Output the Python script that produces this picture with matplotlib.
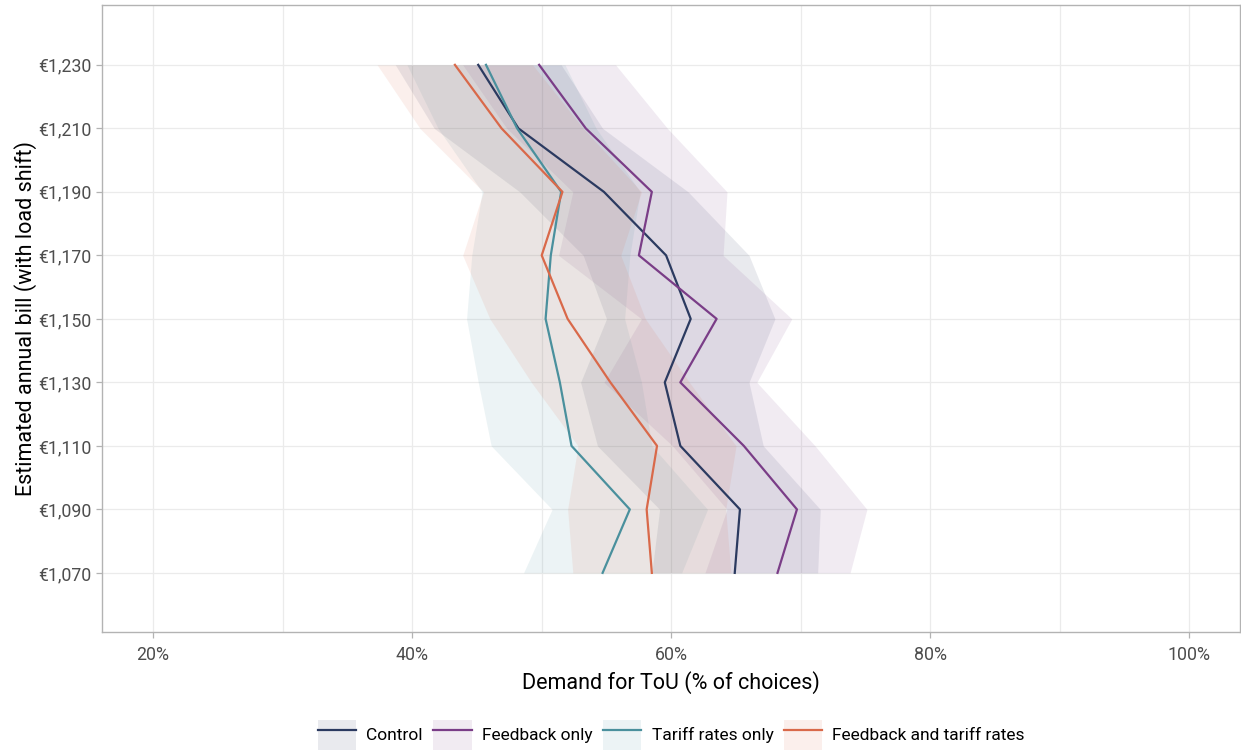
import numpy as np
import matplotlib
matplotlib.use("Agg")
import matplotlib.pyplot as plt
from matplotlib.patches import Patch
from matplotlib.lines import Line2D
from matplotlib.ticker import FuncFormatter, MultipleLocator

plt.rcParams['font.family'] = ['Roboto', 'DejaVu Sans']

# estimated annual bill (with load shift), euro
bills = [1070, 1090, 1110, 1130, 1150, 1170, 1190, 1210, 1230]

# demand for ToU, % of choices: mean, lower, upper
control_mid = [64.9, 65.3, 60.7, 59.5, 61.5, 59.6, 54.8, 48.2, 45.1]
control_lo = [58.5, 59.1, 54.3, 53.0, 55.0, 53.2, 48.3, 41.7, 38.7]
control_hi = [71.3, 71.5, 67.1, 66.0, 68.0, 66.0, 61.3, 54.7, 51.5]

feedback_mid = [68.2, 69.7, 65.6, 60.7, 63.5, 57.5, 58.5, 53.4, 49.8]
feedback_lo = [62.6, 64.3, 60.1, 54.8, 57.7, 51.3, 52.4, 47.3, 43.9]
feedback_hi = [73.8, 75.1, 71.1, 66.6, 69.3, 64.0, 64.3, 59.7, 55.7]

tariff_mid = [54.7, 56.8, 52.3, 51.4, 50.3, 50.7, 51.5, 48.1, 45.7]
tariff_lo = [48.6, 50.8, 46.1, 45.1, 44.2, 44.6, 45.4, 42.0, 39.6]
tariff_hi = [60.8, 62.8, 58.5, 57.7, 56.4, 56.8, 57.6, 54.2, 51.8]

both_mid = [58.5, 58.1, 58.9, 55.3, 52.0, 50.0, 51.6, 46.9, 43.3]
both_lo = [52.4, 52.0, 52.8, 49.2, 46.0, 43.9, 45.5, 40.6, 37.3]
both_hi = [64.6, 64.2, 65.0, 61.4, 58.0, 56.1, 57.7, 53.2, 49.3]

groups = [
    ("Control", control_mid, control_lo, control_hi, "#2b3a60"),
    ("Feedback only", feedback_mid, feedback_lo, feedback_hi, "#7a3d87"),
    ("Tariff rates only", tariff_mid, tariff_lo, tariff_hi, "#4a909d"),
    ("Feedback and tariff rates", both_mid, both_lo, both_hi, "#d9694a"),
]

fig = plt.figure(figsize=(12.41, 7.55), dpi=100)
ax = fig.add_axes([0.0822, 0.163, 0.917, 0.8306])

handles = []
for name, mid, lo, hi, col in groups:
    ax.fill_betweenx(bills, lo, hi, color=col, alpha=0.1, lw=0)
    ax.plot(mid, bills, color=col, lw=1.6)
    handles.append((Patch(facecolor=col, alpha=0.1, lw=0),
                    Line2D([], [], color=col, lw=1.6)))

ax.set_xlim(16.06, 103.9)
ax.set_ylim(1051.4, 1248.9)
ax.xaxis.set_major_locator(MultipleLocator(20))
ax.xaxis.set_minor_locator(MultipleLocator(10))
ax.set_yticks(bills)
ax.xaxis.set_major_formatter(FuncFormatter(lambda v, p: f"{v:.0f}%"))
ax.yaxis.set_major_formatter(FuncFormatter(lambda v, p: f"€{v:,.0f}"))

ax.grid(True, which='major', color='#ebebeb', lw=0.9)
ax.grid(True, which='minor', axis='x', color='#ebebeb', lw=0.9)
ax.set_axisbelow(True)
for s in ax.spines.values():
    s.set_color('#b3b3b3')
    s.set_linewidth(1.0)
ax.tick_params(which='major', colors='#b3b3b3', labelcolor='#4d4d4d',
               labelsize=12.8, length=4, width=0.9)
ax.tick_params(which='minor', length=0)
ax.tick_params(axis='x', pad=6)

ax.set_xlabel("Demand for ToU (% of choices)", fontsize=15.5, color='black', labelpad=5)
ax.set_ylabel("Estimated annual bill (with load shift)", fontsize=15.5, color='black', labelpad=1)

fig.legend(handles, [g[0] for g in groups], loc='center', ncol=4,
           bbox_to_anchor=(0.541, 0.027), frameon=False, fontsize=12.5,
           handlelength=2.2, handleheight=2.3, handletextpad=0.6,
           columnspacing=0.6)

fig.savefig("out.png", dpi=100)
